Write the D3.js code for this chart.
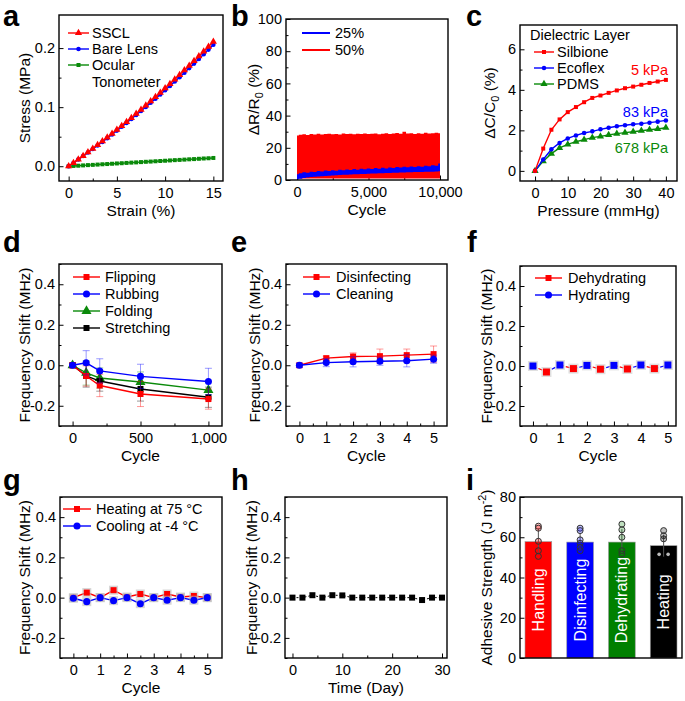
<!DOCTYPE html>
<html><head><meta charset="utf-8">
<script src="https://cdn.jsdelivr.net/npm/d3@7"></script>
<style>
body{margin:0;background:#fff;}
svg{display:block;}
</style></head><body>
<svg id="c" width="685" height="701"></svg>
<script>
// ---------------- DATA ----------------
// a
const strainX = [0,0.5,1,1.5,2,2.5,3,3.5,4,4.5,5,5.5,6,6.5,7,7.5,8,8.5,9,9.5,10,10.5,11,11.5,12,12.5,13,13.5,14,14.5,15];
const ssclStress = [0,0.0058,0.0117,0.0176,0.0237,0.0298,0.0360,0.0423,0.0487,0.0552,0.0618,0.0684,0.0751,0.0819,0.0888,0.0958,0.1029,0.1100,0.1173,0.1246,0.1320,0.1395,0.1471,0.1547,0.1625,0.1703,0.1782,0.1862,0.1943,0.2025,0.2108];
const bareLensStress = [0,0.0056,0.0114,0.0172,0.0231,0.0291,0.0351,0.0412,0.0475,0.0538,0.0603,0.0667,0.0732,0.0799,0.0866,0.0934,0.1003,0.1073,0.1144,0.1215,0.1287,0.1360,0.1434,0.1508,0.1584,0.1661,0.1737,0.1815,0.1894,0.1974,0.2055];
const tonometerStress = [0,0.0005,0.0009,0.0014,0.0019,0.0023,0.0028,0.0033,0.0037,0.0042,0.0047,0.0051,0.0056,0.0061,0.0065,0.0070,0.0075,0.0079,0.0084,0.0089,0.0093,0.0098,0.0103,0.0107,0.0112,0.0117,0.0121,0.0126,0.0131,0.0135,0.0140];
// b
const cycleB = [0,250,500,750,1000,1250,1500,1750,2000,2250,2500,2750,3000,3250,3500,3750,4000,4250,4500,4750,5000,5250,5500,5750,6000,6250,6500,6750,7000,7250,7500,7750,8000,8250,8500,8750,9000,9250,9500,9750,10000];
const r50Upper = [27.6,28.1,28.4,28.0,28.6,28.3,28.7,28.2,28.5,28.8,28.4,28.6,28.3,28.9,28.5,28.7,28.4,28.8,28.6,28.9,28.5,28.7,28.9,28.4,28.8,29.0,28.6,28.9,29.2,28.7,30.0,28.9,29.1,28.6,29.0,28.8,29.3,28.9,29.1,29.4,29.0];
const r50Lower = [1,1,1,1,1,1,1,1,1,1,1,1,1,1,1,1,1,1,1,1,1,1,1,1,1,1,1,1,1,1,1,1,1,1,1,1,1,1,1,1,1];
const r25Upper = [3.5,4.2,4.8,4.5,5.2,5.0,5.6,5.3,5.9,5.6,6.1,5.8,6.3,6.0,6.5,6.2,6.8,6.4,7.0,6.7,7.1,6.9,7.4,7.0,7.6,7.2,7.8,7.5,8.0,7.7,8.2,7.9,8.4,8.1,8.6,8.3,8.8,8.5,9.1,8.9,10.2];
const r25Lower = [0.3,0.8,1.2,1.5,1.8,2.0,2.2,2.4,2.5,2.7,2.8,3.0,3.1,3.2,3.3,3.4,3.5,3.6,3.7,3.8,3.9,4.0,4.1,4.2,4.2,4.3,4.4,4.5,4.5,4.6,4.7,4.8,4.8,4.9,5.0,5.0,5.1,5.2,5.2,5.3,5.4];
// c
const pressureX = [0,2.5,5,7.5,10,12.5,15,17.5,20,22.5,25,27.5,30,32.5,35,37.5,40];
const silbione = [0,1.1,2.03,2.54,2.9,3.15,3.39,3.6,3.72,3.85,3.97,4.08,4.16,4.25,4.34,4.41,4.49];
const ecoflex = [0,0.56,1.07,1.38,1.6,1.75,1.87,1.95,2.05,2.13,2.2,2.25,2.3,2.33,2.38,2.43,2.49];
const pdms = [0,0.48,0.85,1.13,1.31,1.44,1.54,1.64,1.7,1.77,1.84,1.89,1.93,1.98,2.03,2.07,2.13];
// d
const cyclesD = [0,100,200,500,1000];
const flipping = [0,-0.053,-0.1,-0.142,-0.167];
const flippingErr = [0.012,0.05,0.055,0.062,0.05];
const rubbing = [0,0.012,-0.028,-0.055,-0.08];
const rubbingErr = [0.01,0.06,0.06,0.06,0.065];
const folding = [0,-0.038,-0.063,-0.083,-0.123];
const foldingErr = [0.01,0.06,0.05,0.05,0.04];
const stretching = [0,-0.053,-0.078,-0.117,-0.158];
const stretchingErr = [0.01,0.055,0.05,0.06,0.05];
// e
const cyclesE = [0,1,2,3,4,5];
const disinfecting = [0,0.035,0.043,0.045,0.05,0.055];
const disinfectingErr = [0.01,0.01,0.018,0.035,0.03,0.04];
const cleaning = [0,0.013,0.017,0.02,0.022,0.03];
const cleaningErr = [0.01,0.02,0.025,0.02,0.03,0.02];
// f
const hydratingX = [0,1,2,3,4,5];
const hydrating = [0,0.005,0.003,0.003,0.005,0.005];
const dehydratingX = [0.5,1.5,2.5,3.5,4.5];
const dehydrating = [-0.03,-0.013,-0.016,-0.015,-0.013];
// g
const cyclesG = [0,0.5,1,1.5,2,2.5,3,3.5,4,4.5,5];
const heating = [0,0.025,0,0.037,0.003,0.018,0,0.018,0.003,0.008,0];
const cooling = [-0.003,-0.02,0,-0.015,0,-0.03,0,-0.013,0,-0.013,0];
// h
const days = [0,2,4,6,8,10,12,14,16,18,20,22,24,26,28,30];
const shiftH = [0,0,0.012,0,0.012,0.011,0,0,0,0,0,0,0,-0.012,0,0];
// i
const conditions = ["Handling","Disinfecting","Dehydrating","Heating"];
const adhesion = [57.8,57.6,57.6,55.8];
const adhesionPoints = [[65.5,64.5,58,53.3,50.5],[64.5,63.3,58.7,57,55,53.3],[66.5,63.7,60,53.3,51.7],[63.3,60.8,59.2,51.5,51.5]];
const barColors = ["#ff0000","#0000ff","#008000","#000000"];

// ---------------- DRAWING ----------------
const FONT = '"Liberation Sans", Arial, Helvetica, sans-serif';
const RED="#ff0000", BLUE="#0000ff", GREEN="#0a8a0a", BLACK="#000000";
const LFS = 14.5; // legend font size
const svg = d3.select("#c").attr("font-family", FONT);
const f1 = d => d.toFixed(1);
const fint = d => String(d);
const fcomma = d3.format(",");

function styleAxis(sel){
  sel.select(".domain").remove();
  sel.selectAll("text").attr("font-size",14.5).attr("font-family",FONT).attr("fill","#000");
  sel.selectAll("line").attr("stroke","#000").attr("stroke-width",1);
}
function richText(sel, parts, fs){
  parts.forEach(pt=>{
    const s = sel.append("tspan").text(pt.t);
    if(pt.sub){ s.attr("font-size",fs*0.7).attr("dy",fs*0.28); }
    else if(pt.sup){ s.attr("font-size",fs*0.7).attr("dy",-fs*0.4); }
    else if(pt.back){ s.attr("dy",pt.back); }
  });
}
function panel(p){
  const g = svg.append("g");
  const x = p.band ? d3.scaleBand().domain(p.xd).range([p.l,p.r]).paddingInner(0.36).paddingOuter(0.12)
                   : d3.scaleLinear().domain(p.xd).range([p.l,p.r]);
  const y = d3.scaleLinear().domain(p.yd).range([p.b,p.t]);
  if(!p.band){
    if(p.xm) g.append("g").attr("transform",`translate(0,${p.b})`)
      .call(d3.axisBottom(x).tickValues(p.xm).tickSize(-2.5).tickFormat("")).call(styleAxis);
    g.append("g").attr("transform",`translate(0,${p.b})`)
      .call(d3.axisBottom(x).tickValues(p.xt).tickSize(-4.5).tickPadding(6.5).tickFormat(p.xf)).call(styleAxis);
  }
  if(p.ym) g.append("g").attr("transform",`translate(${p.l},0)`)
    .call(d3.axisLeft(y).tickValues(p.ym).tickSize(-2.5).tickFormat("")).call(styleAxis);
  g.append("g").attr("transform",`translate(${p.l},0)`)
    .call(d3.axisLeft(y).tickValues(p.yt).tickSize(-4.5).tickPadding(4).tickFormat(p.yf)).call(styleAxis);
  const plot = g.append("g");
  g.append("rect").attr("x",p.l).attr("y",p.t).attr("width",p.r-p.l).attr("height",p.b-p.t)
    .attr("fill","none").attr("stroke","#000").attr("stroke-width",1.4);
  svg.append("text").attr("x",p.lx).attr("y",p.ly).attr("font-size",29).attr("font-weight","bold").text(p.letter);
  if(p.xtitle) svg.append("text").attr("x",(p.l+p.r)/2).attr("y",p.b+35).attr("text-anchor","middle")
    .attr("font-size",15.5).text(p.xtitle);
  const yt = svg.append("text").attr("transform",`translate(${p.ytx},${(p.t+p.b)/2}) rotate(-90)`)
    .attr("text-anchor","middle").attr("font-size",15.5);
  richText(yt, p.ytitle, 15.5);
  return {g:plot,x,y};
}
function marker(g, type, cx, cy, size, color, stroke){
  const sym = {square:d3.symbolSquare, circle:d3.symbolCircle, triangle:d3.symbolTriangle}[type];
  g.append("path").attr("d", d3.symbol().type(sym).size(size*size*(type==="circle"?0.8:type==="triangle"?0.9:1))())
    .attr("transform",`translate(${cx},${cy})`).attr("fill",color)
    .attr("stroke",stroke||"none").attr("stroke-width",0.8);
}
function series(P, xs, ys, color, type, size, opts={}){
  const line = d3.line().x((d,i)=>P.x(xs[i])).y(d=>P.y(d));
  if(opts.err){
    xs.forEach((xv,i)=>{
      const e=opts.err[i], cx=P.x(xv);
      const gg=P.g.append("g").attr("stroke",color).attr("stroke-opacity",0.4).attr("stroke-width",1);
      gg.append("line").attr("x1",cx).attr("x2",cx).attr("y1",P.y(ys[i]-e)).attr("y2",P.y(ys[i]+e));
      [ys[i]-e, ys[i]+e].forEach(v=>gg.append("line").attr("x1",cx-3.5).attr("x2",cx+3.5).attr("y1",P.y(v)).attr("y2",P.y(v)));
    });
  }
  P.g.append("path").datum(ys).attr("d",line).attr("fill","none").attr("stroke",opts.lineColor||color)
    .attr("stroke-width",opts.lw||1.4).attr("stroke-dasharray",opts.dash||null);
  if(opts.halo) xs.forEach((xv,i)=>P.g.append("rect").attr("x",P.x(xv)-4.5).attr("y",P.y(ys[i])-4.5)
    .attr("width",9).attr("height",9).attr("fill","#bbb").attr("opacity",0.6));
  xs.forEach((xv,i)=>marker(P.g,type,P.x(xv),P.y(ys[i]),size,color));
}
function legend(items, x1, x2, tx, ys, withMarker=true, lw=1.4){
  items.forEach((it,i)=>{
    svg.append("line").attr("x1",x1).attr("x2",x2).attr("y1",ys[i]).attr("y2",ys[i]).attr("stroke",it.c).attr("stroke-width",lw);
    if(withMarker) marker(svg,it.m,(x1+x2)/2,ys[i],it.s||6,it.c);
    svg.append("text").attr("x",tx).attr("y",ys[i]+5).attr("font-size",LFS).text(it.t);
  });
}

// ---- a ----
const A = panel({l:59,r:223,t:15,b:181,xd:[-1,16],yd:[-0.025,0.256],
  xt:[0,5,10,15],xm:[2.5,7.5,12.5],xf:fint,yt:[0,0.1,0.2],ym:[0.05,0.15],yf:f1,
  letter:"a",lx:3,ly:26,xtitle:"Strain (%)",ytx:30,ytitle:[{t:"Stress (MPa)"}]});
series(A,strainX,tonometerStress,GREEN,"square",4);
series(A,strainX,bareLensStress,BLUE,"circle",4.5);
series(A,strainX,ssclStress,RED,"triangle",5);
legend([{t:"SSCL",c:RED,m:"triangle",s:5},{t:"Bare Lens",c:BLUE,m:"circle",s:4.5},{t:"Ocular",c:GREEN,m:"square",s:4}],68,89,92,[33,49,65]);
svg.append("text").attr("x",92).attr("y",87).attr("font-size",LFS).text("Tonometer");

// ---- b ----
const B = panel({l:286,r:448,t:19,b:180,xd:[-770,10560],yd:[0,100],
  xt:[0,5000,10000],xm:[2500,7500],xf:fcomma,yt:[0,20,40,60,80,100],ym:[10,30,50,70,90],yf:fint,
  letter:"b",lx:231,ly:26,xtitle:"Cycle",ytx:259,ytitle:[{t:"ΔR/R"},{t:"0",sub:true},{t:" (%)",back:-15.5*0.28}]});
const areaB = (up,lo)=>d3.area().x((d,i)=>B.x(cycleB[i])).y0((d,i)=>B.y(lo[i])).y1(d=>B.y(d)).curve(d3.curveStep);
B.g.append("path").datum(r50Upper).attr("d",areaB(r50Upper,r50Lower)).attr("fill",RED);
B.g.append("path").datum(r25Upper).attr("d",areaB(r25Upper,r25Lower)).attr("fill",BLUE);
legend([{t:"25%",c:BLUE},{t:"50%",c:RED}],302,330,335,[33,50],false,2);

// ---- c ----
const C = panel({l:520,r:677,t:25,b:181,xd:[-4.6,43.4],yd:[-0.5,7.2],
  xt:[0,10,20,30,40],xm:[5,15,25,35],xf:fint,yt:[0,2,4,6],ym:[1,3,5],yf:fint,
  letter:"c",lx:466,ly:26,xtitle:"Pressure (mmHg)",ytx:495,ytitle:[{t:"ΔC/C"},{t:"0",sub:true},{t:" (%)",back:-15.5*0.28}]});
series(C,pressureX,pdms,GREEN,"triangle",5);
series(C,pressureX,ecoflex,BLUE,"circle",4.5);
series(C,pressureX,silbione,RED,"square",4);
svg.append("text").attr("x",530).attr("y",40).attr("font-size",LFS).text("Dielectric Layer");
legend([{t:"Silbione",c:RED,m:"square",s:4},{t:"Ecoflex",c:BLUE,m:"circle",s:4.5},{t:"PDMS",c:GREEN,m:"triangle",s:5}],534,554,557,[52,68,84]);
[["5 kPa",RED,75],["83 kPa",BLUE,117],["678 kPa",GREEN,153]].forEach(a=>
  svg.append("text").attr("x",668).attr("y",a[2]).attr("text-anchor","end").attr("font-size",LFS).attr("fill",a[1]).text(a[0]));

// ---- d ----
const freqY = {yd:[-0.3,0.5],yt:[-0.2,0,0.2,0.4],ym:[-0.3,-0.1,0.1,0.3,0.5],yf:f1};
const D = panel({l:59,r:222,t:264,b:426,xd:[-100,1100],...freqY,
  xt:[0,500,1000],xm:[250,750],xf:fcomma,
  letter:"d",lx:3,ly:252,xtitle:"Cycle",ytx:30,ytitle:[{t:"Frequency Shift (MHz)"}]});
series(D,cyclesD,folding,GREEN,"triangle",7,{err:foldingErr});
series(D,cyclesD,stretching,BLACK,"square",6,{err:stretchingErr});
series(D,cyclesD,flipping,RED,"square",6,{err:flippingErr});
series(D,cyclesD,rubbing,BLUE,"circle",7,{err:rubbingErr});
legend([{t:"Flipping",c:RED,m:"square"},{t:"Rubbing",c:BLUE,m:"circle",s:7},{t:"Folding",c:GREEN,m:"triangle",s:7},{t:"Stretching",c:BLACK,m:"square"}],73,100,105,[277,294,311,328]);

// ---- e ----
const E = panel({l:286,r:447,t:264,b:426,xd:[-0.5,5.5],...freqY,
  xt:[0,1,2,3,4,5],xm:[0.5,1.5,2.5,3.5,4.5],xf:fint,
  letter:"e",lx:231,ly:252,xtitle:"Cycle",ytx:260,ytitle:[{t:"Frequency Shift (MHz)"}]});
series(E,cyclesE,disinfecting,RED,"square",6,{err:disinfectingErr});
series(E,cyclesE,cleaning,BLUE,"circle",7,{err:cleaningErr});
legend([{t:"Disinfecting",c:RED,m:"square"},{t:"Cleaning",c:BLUE,m:"circle",s:7}],303,330,336,[277,294]);

// ---- f ----
const F = panel({l:520,r:676,t:266,b:426,xd:[-0.48,5.3],...freqY,
  xt:[0,1,2,3,4,5],xm:[0.5,1.5,2.5,3.5,4.5],xf:fint,
  letter:"f",lx:467,ly:252,xtitle:"Cycle",ytx:492,ytitle:[{t:"Frequency Shift (MHz)"}]});
{
  const pts = [];
  hydratingX.forEach((xv,i)=>pts.push({x:xv,y:hydrating[i],c:BLUE}));
  dehydratingX.forEach((xv,i)=>pts.push({x:xv,y:dehydrating[i],c:RED}));
  pts.sort((a,b)=>a.x-b.x);
  for(let i=1;i<pts.length;i++){
    F.g.append("line").attr("x1",F.x(pts[i-1].x)).attr("y1",F.y(pts[i-1].y)).attr("x2",F.x(pts[i].x)).attr("y2",F.y(pts[i].y))
      .attr("stroke",pts[i].y<pts[i-1].y?RED:BLUE).attr("stroke-width",1.2).attr("stroke-dasharray","4,2");
  }
  pts.forEach(p=>{
    F.g.append("rect").attr("x",F.x(p.x)-5).attr("y",F.y(p.y)-5).attr("width",10).attr("height",10).attr("fill","#ccc").attr("opacity",0.6);
    marker(F.g,"square",F.x(p.x),F.y(p.y),7,p.c);
  });
}
legend([{t:"Dehydrating",c:RED,m:"square"},{t:"Hydrating",c:BLUE,m:"circle",s:7}],535,562,568,[278,295]);

// ---- g ----
const G = panel({l:60,r:222,t:497,b:658,xd:[-0.5,5.55],...freqY,
  xt:[0,1,2,3,4,5],xm:[0.5,1.5,2.5,3.5,4.5],xf:fint,
  letter:"g",lx:3,ly:490,xtitle:"Cycle",ytx:30,ytitle:[{t:"Frequency Shift (MHz)"}]});
series(G,cyclesG,heating,RED,"square",6,{halo:true});
series(G,cyclesG,cooling,BLUE,"circle",7,{halo:true});
legend([{t:"Heating at 75 °C",c:RED,m:"square"},{t:"Cooling at -4 °C",c:BLUE,m:"circle",s:7}],63,91,96,[509,526]);

// ---- h ----
const H = panel({l:285,r:447,t:497,b:658,xd:[-1.5,31],...freqY,
  xt:[0,10,20,30],xm:[5,15,25],xf:fint,
  letter:"h",lx:231,ly:490,xtitle:"Time (Day)",ytx:257,ytitle:[{t:"Frequency Shift (MHz)"}]});
series(H,days,shiftH,BLACK,"square",6,{lw:1,dash:"2,2"});

// ---- i ----
const I = panel({band:true,l:520,r:682,t:497,b:658,xd:conditions,yd:[0,80],
  yt:[0,20,40,60,80],ym:[10,30,50,70],yf:fint,
  letter:"i",lx:466,ly:490,ytx:492,ytitle:[{t:"Adhesive Strength (J m"},{t:"-2",sup:true},{t:")",back:15.5*0.4}]});
conditions.forEach((c,i)=>{
  const bx=I.x(c), bw=I.x.bandwidth(), cx=bx+bw/2;
  I.g.append("rect").attr("x",bx).attr("y",I.y(adhesion[i])).attr("width",bw).attr("height",I.y(0)-I.y(adhesion[i]))
    .attr("fill",barColors[i]).attr("stroke","#999").attr("stroke-width",0.6);
  const sd = d3.deviation(adhesionPoints[i]);
  I.g.append("line").attr("x1",cx).attr("x2",cx).attr("y1",I.y(adhesion[i]-sd)).attr("y2",I.y(adhesion[i]+sd))
    .attr("stroke","#555").attr("stroke-width",1);
  I.g.append("text").attr("transform",`translate(${cx+5.5},${(I.y(adhesion[i])+I.y(0))/2}) rotate(-90)`)
    .attr("text-anchor","middle").attr("font-size",16).attr("fill","#fff").text(c);
  const seen = {};
  adhesionPoints[i].forEach(v=>{
    seen[v]=(seen[v]||0)+1;
    const dup = adhesionPoints[i].filter(w=>w===v).length>1;
    const ox = dup ? (seen[v]===1?-4.5:4.5) : 0;
    I.g.append("circle").attr("cx",cx+ox).attr("cy",I.y(v)).attr("r",dup?1.8:3)
      .attr("fill",dup?"#bbb":d3.color(barColors[i]).copy({opacity:0.25}))
      .attr("stroke",dup?"none":"#333").attr("stroke-width",1);
  });
});
</script>
</body></html>
